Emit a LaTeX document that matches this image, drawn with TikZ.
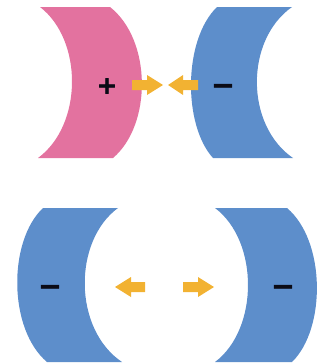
\documentclass[tikz,border=0pt]{standalone}
\usepackage{fontspec}
\newfontfamily\signfont[FakeBold=2.5]{DejaVu Sans}
\definecolor{pinkc}{HTML}{E3729F}
\definecolor{bluec}{HTML}{5D8ECB}
\definecolor{orangec}{HTML}{F2B232}
\definecolor{signc}{HTML}{0B0B16}
\begin{document}
\begin{tikzpicture}[x=1pt,y=-1pt,
  pinkshape/.style={fill=pinkc,draw=none},
  blueshape/.style={fill=bluec,draw=none},
  arrowfill/.style={fill=orangec,draw=none},
  plussign/.style={text=signc,font=\signfont\bfseries\fontsize{24}{24}\selectfont,inner sep=0pt,anchor=base},
  minussign/.style={text=signc,font=\signfont\bfseries\fontsize{28}{28}\selectfont,inner sep=0pt,anchor=base}]
\useasboundingbox (0,0) rectangle (325,364);
% top pink
\fill[pinkshape] (40,7) -- (110,7) .. controls (152,40) and (152,125) .. (113,158)
  -- (38,158) .. controls (83,125) and (83,40) .. cycle;
% top blue
\fill[blueshape] (217,7) -- (292,7) .. controls (245,40) and (245,125) .. (293,158)
  -- (213,158) .. controls (183,125) and (183,40) .. cycle;
% bottom left blue
\fill[blueshape] (43,208) -- (118,208) .. controls (73,241) and (73,329) .. (122,362)
  -- (47,362) .. controls (8,329) and (8,241) .. cycle;
% bottom right blue
\fill[blueshape] (215,208) -- (287,208) .. controls (326,241) and (326,329) .. (292,362)
  -- (215,362) .. controls (259,329) and (259,241) .. cycle;
% arrows top
\fill[arrowfill] (132,80) -- (147,80) -- (147,75) -- (163,85) -- (147,95) -- (147,90) -- (132,90) -- cycle;
\fill[arrowfill] (198,80) -- (183,80) -- (183,75) -- (168,85) -- (183,95) -- (183,90) -- (198,90) -- cycle;
% arrows bottom
\fill[arrowfill] (145,282) -- (131,282) -- (131,277) -- (115,287) -- (131,297) -- (131,292) -- (145,292) -- cycle;
\fill[arrowfill] (183,282) -- (198,282) -- (198,277) -- (214,287) -- (198,297) -- (198,292) -- (183,292) -- cycle;
% signs
\node[plussign] (p1) at (107,85+8.5) {+};
\node[minussign] (m1) at (223,85+9.5) {−};
\node[minussign] (m2) at (50,286+9.5) {−};
\node[minussign] (m3) at (283,286+9.5) {−};
\end{tikzpicture}
\end{document}
